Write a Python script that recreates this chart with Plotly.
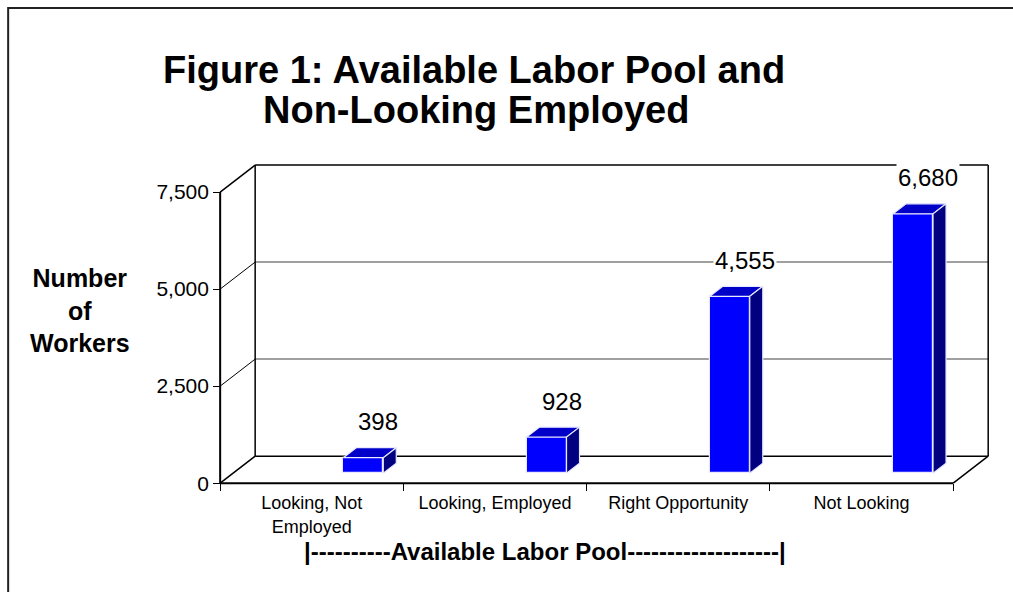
import plotly.graph_objects as go

# ---------------- data ----------------
categories = ["Looking, Not<br>Employed", "Looking, Employed", "Right Opportunity", "Not Looking"]
values = [398, 928, 4555, 6680]
y_tick_vals = [0, 2500, 5000, 7500]
y_tick_text = ["0", "2,500", "5,000", "7,500"]
wall_top = 7500

# ---------------- geometry / style ----------------
W, H = 1013, 592
SX = 183.25      # px per category unit
SY = 0.0388      # px per value unit
ORIGIN_PX = (220, 483)
XMIN, XMAX = -0.05, 4.25
YMIN, YMAX = -150, 8300

L = ORIGIN_PX[0] + XMIN * SX
PW = (XMAX - XMIN) * SX
R = W - L - PW
T = ORIGIN_PX[1] - YMAX * SY
PH = (YMAX - YMIN) * SY
B = H - T - PH

WALL_DX = 0.191   # back wall offset (category units)
WALL_DY = 696     # back wall offset (value units)
BAR_OFF = 0.672   # bar front-face left edge inside category
BAR_W = 0.218
BAR_BASE = 258    # bar front face sits partway into floor depth
BAR_DX = 0.071    # bar depth
BAR_DY = 258

FONT = "Liberation Sans, Arial, sans-serif"
n = len(categories)


def px_x(px):
    return (px - L) / PW


def px_y(py):
    return (H - B - py) / PH


fig = go.Figure()

# front faces
centers = [i + BAR_OFF + BAR_W / 2 for i in range(n)]
fig.add_trace(go.Bar(
    x=centers, y=values, base=[BAR_BASE] * n, width=BAR_W,
    marker=dict(color="#0000FF", line=dict(color="#E8E8FF", width=1.2)),
    hoverinfo="skip", showlegend=False,
))

# top and side faces
top_x, top_y, side_x, side_y = [], [], [], []
for i, v in enumerate(values):
    x0 = i + BAR_OFF
    x1 = x0 + BAR_W
    yt = BAR_BASE + v
    top_x += [x0, x1, x1 + BAR_DX, x0 + BAR_DX, x0, None]
    top_y += [yt, yt, yt + BAR_DY, yt + BAR_DY, yt, None]
    side_x += [x1, x1, x1 + BAR_DX, x1 + BAR_DX, x1, None]
    side_y += [BAR_BASE, yt, yt + BAR_DY, BAR_BASE + BAR_DY, BAR_BASE, None]

fig.add_trace(go.Scatter(x=top_x, y=top_y, mode="lines", fill="toself",
                         fillcolor="#0000C8", line=dict(color="#E8E8FF", width=1.2),
                         hoverinfo="skip", showlegend=False))
fig.add_trace(go.Scatter(x=side_x, y=side_y, mode="lines", fill="toself",
                         fillcolor="#000080", line=dict(color="#E8E8FF", width=1.2),
                         hoverinfo="skip", showlegend=False))

# walls and floor
shapes = []


def seg(x0, y0, x1, y1, color="black", width=1.5):
    shapes.append(dict(type="line", xref="x", yref="y", x0=x0, y0=y0, x1=x1, y1=y1,
                       line=dict(color=color, width=width), layer="below"))


xe = n
for v in y_tick_vals[1:-1]:
    seg(WALL_DX, v + WALL_DY, xe + WALL_DX, v + WALL_DY, "#808080", 1.5)
    seg(0, v, WALL_DX, v + WALL_DY, "black", 1)
seg(WALL_DX, wall_top + WALL_DY, xe + WALL_DX, wall_top + WALL_DY)
seg(WALL_DX, WALL_DY, xe + WALL_DX, WALL_DY)
seg(0, wall_top, WALL_DX, wall_top + WALL_DY)
seg(0, 0, WALL_DX, WALL_DY)
seg(xe, 0, xe + WALL_DX, WALL_DY)
seg(xe + WALL_DX, WALL_DY, xe + WALL_DX, wall_top + WALL_DY)
seg(WALL_DX, WALL_DY, WALL_DX, wall_top + WALL_DY)
seg(0, 0, 0, wall_top, "black", 2)
seg(0, 0, xe, 0, "black", 2)

# figure border (left and top) as one open path
bx, by, ex, ey = 8, 8, 1013, 592
shapes.append(dict(type="path", xref="paper", yref="paper",
                   path=(f"M {px_x(bx)},{px_y(ey)} L {px_x(bx)},{px_y(by)} "
                         f"L {px_x(ex)},{px_y(by)}"),
                   line=dict(color="#222222", width=2)))

annotations = []
# value labels
for c, v in zip(centers, values):
    annotations.append(dict(x=c, y=BAR_BASE + v + BAR_DY, xref="x", yref="y",
                            text=f"{v:,}", showarrow=False, xshift=15, yshift=26,
                            yanchor="middle", bgcolor="white",
                            font=dict(size=24, color="black", family=FONT)))

# titles
annotations.append(dict(x=px_x(474), y=px_y(70), xref="paper", yref="paper",
                        text="<b>Figure 1: Available Labor Pool and</b>", showarrow=False,
                        xanchor="center", yanchor="middle",
                        font=dict(size=38, color="black", family=FONT)))
annotations.append(dict(x=px_x(476), y=px_y(110), xref="paper", yref="paper",
                        text="<b>Non-Looking Employed</b>", showarrow=False,
                        xanchor="center", yanchor="middle",
                        font=dict(size=38, color="black", family=FONT)))
annotations.append(dict(x=px_x(80), y=px_y(310), xref="paper", yref="paper",
                        text="<b>Number<br>of<br>Workers</b>", showarrow=False,
                        xanchor="center", yanchor="middle",
                        font=dict(size=25, color="black", family=FONT)))
annotations.append(dict(x=px_x(545), y=px_y(551), xref="paper", yref="paper",
                        text="<b>|----------Available Labor Pool-------------------|</b>",
                        showarrow=False, xanchor="center", yanchor="middle",
                        font=dict(size=24, color="black", family=FONT)))

fig.update_layout(
    width=W, height=H,
    margin=dict(l=L, r=R, t=T, b=B, pad=0),
    paper_bgcolor="white", plot_bgcolor="white",
    font=dict(family=FONT, color="black"),
    showlegend=False,
    bargap=0,
    shapes=shapes,
    annotations=annotations,
    xaxis=dict(range=[XMIN, XMAX], anchor="free",
               position=(0 - YMIN) / (YMAX - YMIN),
               tickmode="array", tickvals=[i + 0.5 for i in range(n)], ticktext=categories,
               ticks="", showgrid=False, zeroline=False, showline=False,
               ticklabelstandoff=7,
               tickfont=dict(size=18, color="black"),
               minor=dict(tickmode="array", tickvals=list(range(n + 1)), ticks="outside",
                          ticklen=7, tickwidth=1, tickcolor="black", showgrid=False),
               fixedrange=True),
    yaxis=dict(range=[YMIN, YMAX], anchor="free",
               position=(0 - XMIN) / (XMAX - XMIN),
               tickmode="array", tickvals=y_tick_vals, ticktext=y_tick_text,
               ticks="outside", ticklen=7, tickwidth=1, tickcolor="black",
               showgrid=False, zeroline=False, showline=False,
               tickfont=dict(size=21, color="black"), fixedrange=True),
)

fig.write_html(
    "out.html",
    config={"displayModeBar": False},
    post_script=("document.documentElement.style.overflow='hidden';"
                 "document.body.style.margin='0';document.body.style.overflow='hidden';"),
)
